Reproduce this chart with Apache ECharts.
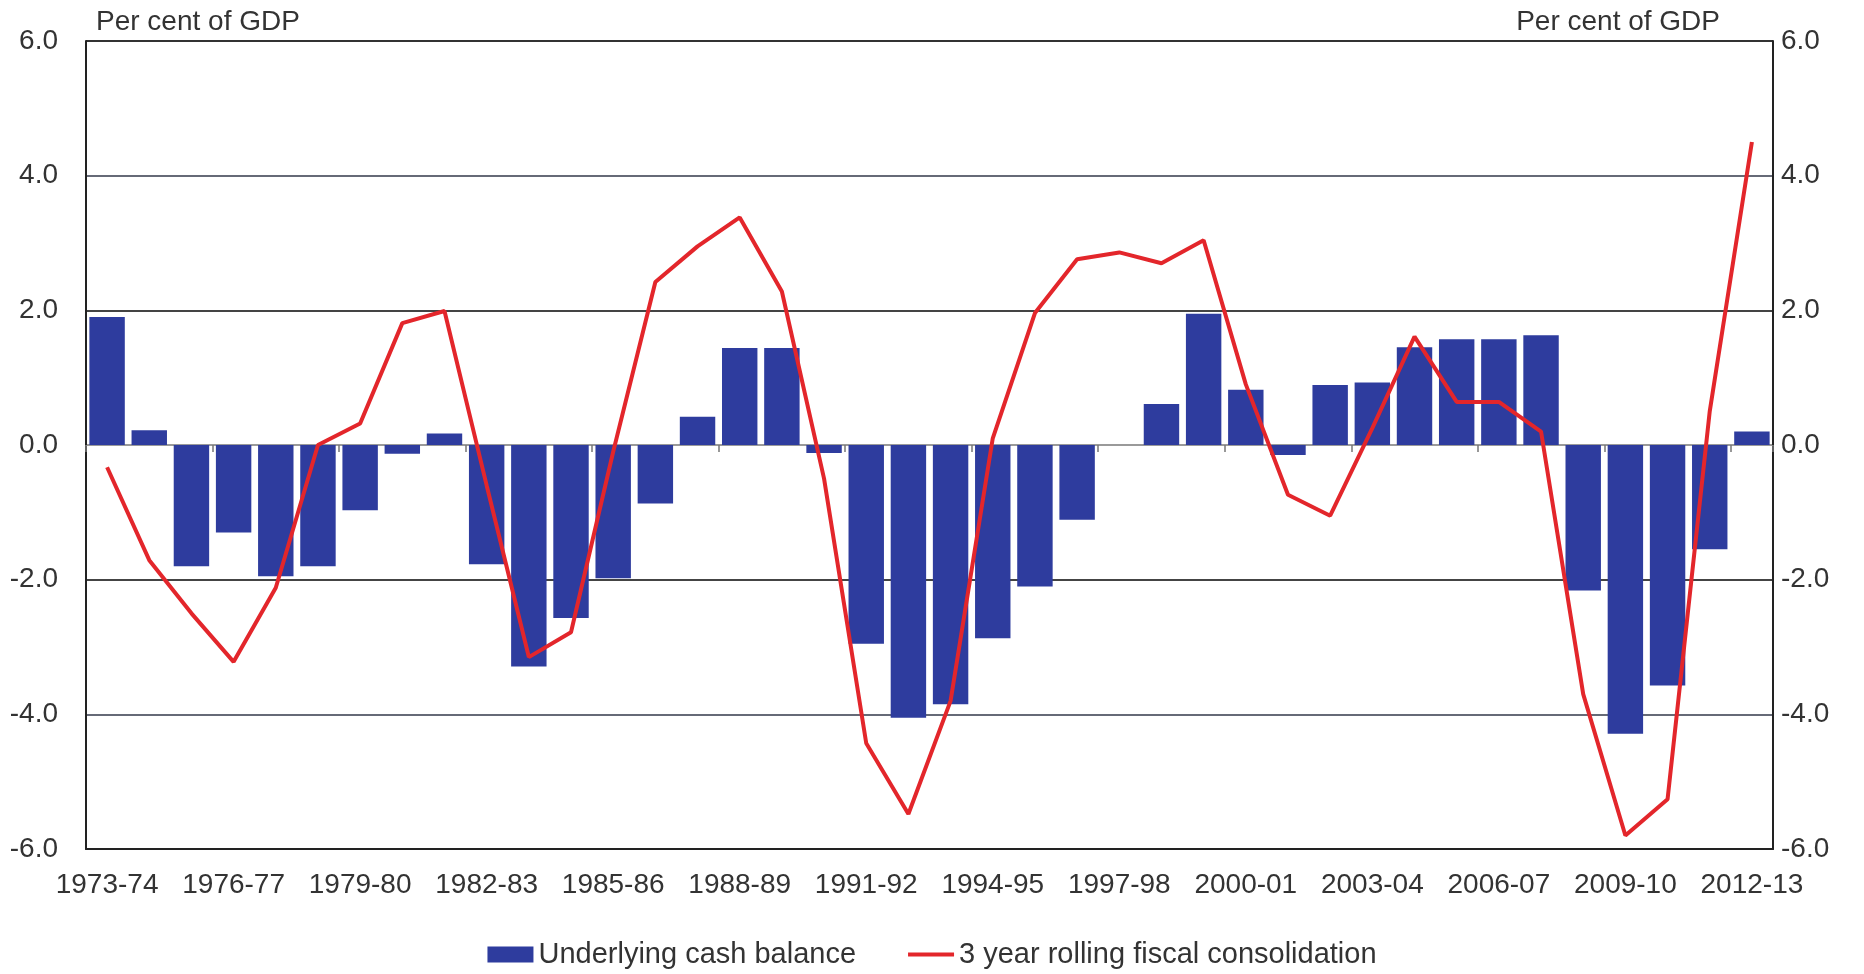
<!DOCTYPE html>
<html>
<head>
<meta charset="utf-8">
<script src="https://cdn.jsdelivr.net/npm/echarts@6/dist/echarts.min.js"></script>
<style>
html,body{margin:0;padding:0;background:#fff;}
#chart{width:1864px;height:974px;}
</style>
</head>
<body>
<div id="chart"></div>
<script>
const categories = ['1973-74','1974-75','1975-76','1976-77','1977-78','1978-79','1979-80','1980-81','1981-82','1982-83',
  '1983-84','1984-85','1985-86','1986-87','1987-88','1988-89','1989-90','1990-91','1991-92','1992-93',
  '1993-94','1994-95','1995-96','1996-97','1997-98','1998-99','1999-00','2000-01','2001-02','2002-03',
  '2003-04','2004-05','2005-06','2006-07','2007-08','2008-09','2009-10','2010-11','2011-12','2012-13'];

const cashBalance = [1.9,0.22,-1.8,-1.3,-1.95,-1.8,-0.97,-0.13,0.17,-1.77,
  -3.29,-2.57,-1.98,-0.87,0.42,1.44,1.44,-0.12,-2.95,-4.05,
  -3.85,-2.87,-2.1,-1.11,0,0.61,1.95,0.82,-0.15,0.89,
  0.93,1.45,1.57,1.57,1.63,-2.16,-4.29,-3.57,-1.55,0.2];

const consolidation = [-0.33,-1.71,-2.5,-3.22,-2.12,0.0,0.32,1.81,1.99,-0.6,
  -3.15,-2.78,-0.1,2.42,2.95,3.38,2.28,-0.5,-4.43,-5.48,
  -3.8,0.1,1.96,2.76,2.86,2.70,3.04,0.9,-0.74,-1.05,
  0.25,1.61,0.64,0.64,0.2,-3.7,-5.8,-5.26,0.5,4.5];

const seriesNames = ['Underlying cash balance','3 year rolling fiscal consolidation'];
const yTitle = 'Per cent of GDP';

const FONT = "'Liberation Sans', Arial, sans-serif";
const TXT = '#333333';

const chart = echarts.init(document.getElementById('chart'), null, {renderer:'canvas'});
const gridColors = ['#333','#666a77','#444','#9a9a9a','#444','#666a77','#333'];
chart.setOption({
  animation:false,
  backgroundColor:'#ffffff',
  grid:{left:86,right:91,top:41,bottom:125,containLabel:false},
  legend:{
    bottom:0,left:'center',
    itemWidth:46,itemHeight:16,itemGap:52,
    textStyle:{fontFamily:FONT,fontSize:29,color:TXT},
    data:[
      {name:seriesNames[0],icon:'rect'},
      {name:seriesNames[1],icon:'path://M0,0 L0,0 M0,6 L46,6 L46,10 L0,10 Z M46,16 L46,16'}
    ]
  },
  graphic:[
    {type:'text',left:96,top:8,style:{text:yTitle,font:'28px '+FONT,fill:TXT}},
    {type:'text',right:144,top:8,style:{text:yTitle,font:'28px '+FONT,fill:TXT}}
  ],
  xAxis:[
    {type:'category',data:categories,boundaryGap:true,position:'bottom',
     axisLine:{onZero:false,lineStyle:{color:'#222',width:2}},
     axisTick:{show:false},
     axisLabel:{interval:2,fontFamily:FONT,fontSize:28,color:TXT,margin:22}},
    {type:'category',data:categories,boundaryGap:true,position:'bottom',
     axisLine:{onZero:true,onZeroAxisIndex:0,lineStyle:{color:'#9a9a9a',width:1}},
     axisTick:{show:true,interval:2,length:7,lineStyle:{color:'#777',width:1.5}},
     axisLabel:{show:false}}
  ],
  yAxis:[
    {type:'value',min:-6,max:6,interval:2,position:'left',
     axisLine:{show:true,lineStyle:{color:'#222',width:2}},
     axisTick:{show:false},
     axisLabel:{formatter:v=>v.toFixed(1),fontFamily:FONT,fontSize:28,color:TXT,margin:28},
     splitLine:{show:true,lineStyle:{color:gridColors,width:2}}},
    {type:'value',min:-6,max:6,interval:2,position:'right',
     axisLine:{show:true,lineStyle:{color:'#222',width:2}},
     axisTick:{show:false},
     axisLabel:{formatter:v=>v.toFixed(1),fontFamily:FONT,fontSize:28,color:TXT,margin:8},
     splitLine:{show:false}}
  ],
  series:[
    {name:seriesNames[0],type:'bar',data:cashBalance,xAxisIndex:0,yAxisIndex:0,
     barCategoryGap:'16%',itemStyle:{color:'#2E3C9E'},z:2},
    {name:seriesNames[1],type:'line',data:consolidation,xAxisIndex:0,yAxisIndex:0,
     symbol:'none',lineStyle:{color:'#E3262B',width:4},itemStyle:{color:'#E3262B'},z:3}
  ]
});
</script>
</body>
</html>
